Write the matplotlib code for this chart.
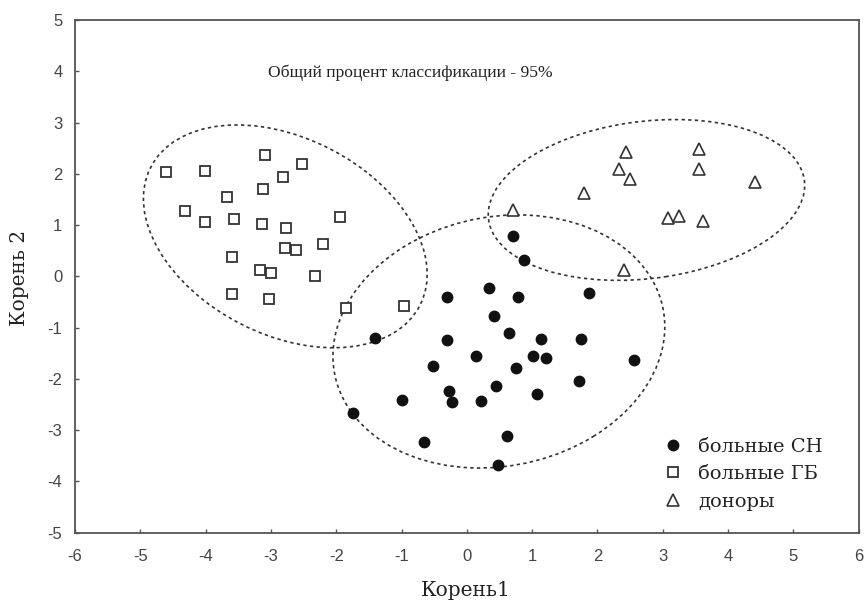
import matplotlib
matplotlib.use("Agg")
import matplotlib.pyplot as plt
from matplotlib.patches import Ellipse

plt.rcParams["axes.unicode_minus"] = False

# ----------------------------
# DATA
# ----------------------------
sn_x = [0.70, 0.87, 0.34, -0.31, 0.79, 1.87, 0.41, 0.65, -1.40, -0.31,
        1.13, 1.75, 0.14, 1.02, 1.21, 2.56, -0.52, 0.76, 1.71, 0.44,
        -0.28, 1.08, -0.99, -0.22, 0.21, -1.75, -0.65, 0.62, 0.47]
sn_y = [0.78, 0.31, -0.22, -0.40, -0.41, -0.33, -0.77, -1.10, -1.20, -1.25,
        -1.23, -1.23, -1.56, -1.55, -1.59, -1.64, -1.75, -1.78, -2.04, -2.13,
        -2.23, -2.30, -2.42, -2.45, -2.44, -2.66, -3.23, -3.12, -3.67]

gb_x = [-3.09, -2.52, -4.61, -4.01, -2.81, -3.12, -3.68, -4.31, -4.01, -3.56,
        -3.13, -2.77, -1.94, -2.78, -2.62, -2.20, -3.59, -3.17, -3.00, -2.32,
        -3.59, -3.03, -1.85, -0.97]
gb_y = [2.37, 2.20, 2.03, 2.06, 1.94, 1.70, 1.54, 1.28, 1.06, 1.12,
        1.03, 0.95, 1.16, 0.56, 0.51, 0.64, 0.38, 0.12, 0.06, 0.01,
        -0.34, -0.44, -0.62, -0.57]

don_x = [2.43, 3.55, 2.33, 2.50, 3.55, 4.41, 1.80, 0.70, 3.08, 3.25, 3.62, 2.41]
don_y = [2.42, 2.48, 2.09, 1.89, 2.09, 1.84, 1.62, 1.29, 1.14, 1.18, 1.08, 0.12]

labels = ["больные СН", "больные ГБ", "доноры"]

# group ellipses: center x, center y, width, height, angle
ell_cx = [0.49, -2.78, 2.75]
ell_cy = [-1.27, 0.78, 1.49]
ell_w = [5.30, 5.03, 4.90]
ell_h = [4.70, 3.53, 3.05]
ell_ang = [38, 135, 11]

title_text = "Общий процент классификации - 95%"

# ----------------------------
# PLOT
# ----------------------------
serif = "DejaVu Serif"
sans = "Liberation Sans"
gray = "#444444"
txt = "#222222"

fig = plt.figure(figsize=(8.64, 6.02), dpi=100)
ax = fig.add_axes([0.0868, 0.1151, 0.9071, 0.8517])

ax.plot(sn_x, sn_y, "o", ms=7.5, color="#111111", mec="#111111", label=labels[0])
ax.plot(gb_x, gb_y, "s", ms=7.5, mfc="white", mec="#333333", mew=1.3, label=labels[1])
ax.plot(don_x, don_y, "^", ms=8, mfc="white", mec="#333333", mew=1.2, label=labels[2])

for i in range(len(ell_cx)):
    e = Ellipse((ell_cx[i], ell_cy[i]), ell_w[i], ell_h[i], angle=ell_ang[i],
                fill=False, edgecolor="#333333", lw=1.2, linestyle=(0, (2, 2)))
    ax.add_patch(e)

ax.text(-0.87, 3.98, title_text, ha="center", va="center",
        fontsize=12.6, family="Liberation Serif", color=txt)

ax.set_xlim(-6, 6)
ax.set_ylim(-5, 5)
ax.set_xticks(range(-6, 7))
ax.set_yticks(range(-5, 6))

for s in ax.spines.values():
    s.set_color("#555555")
    s.set_linewidth(1.3)

ax.tick_params(direction="in", length=3, width=1, colors="#555555",
               labelcolor=gray, labelsize=12)
ax.tick_params(axis="x", pad=12)
ax.tick_params(axis="y", pad=9)
for t in ax.get_xticklabels() + ax.get_yticklabels():
    t.set_family(sans)

fig.text(466 / 864, 1 - 591 / 602, "Корень1", ha="center", va="center",
         fontsize=14.5, family=serif, color=txt)
fig.text(20 / 864, 1 - 278 / 602, "Корень 2", ha="center", va="center",
         rotation=90, fontsize=14.5, family=serif, color=txt)

leg = ax.legend(loc="upper left", bbox_to_anchor=(0.750, 0.185),
                frameon=False, borderaxespad=0, borderpad=0,
                handlelength=1.0, handletextpad=0.8, labelspacing=0.48,
                prop={"family": serif, "size": 14})
for t in leg.get_texts():
    t.set_color(txt)

fig.savefig("out.png", dpi=100)
